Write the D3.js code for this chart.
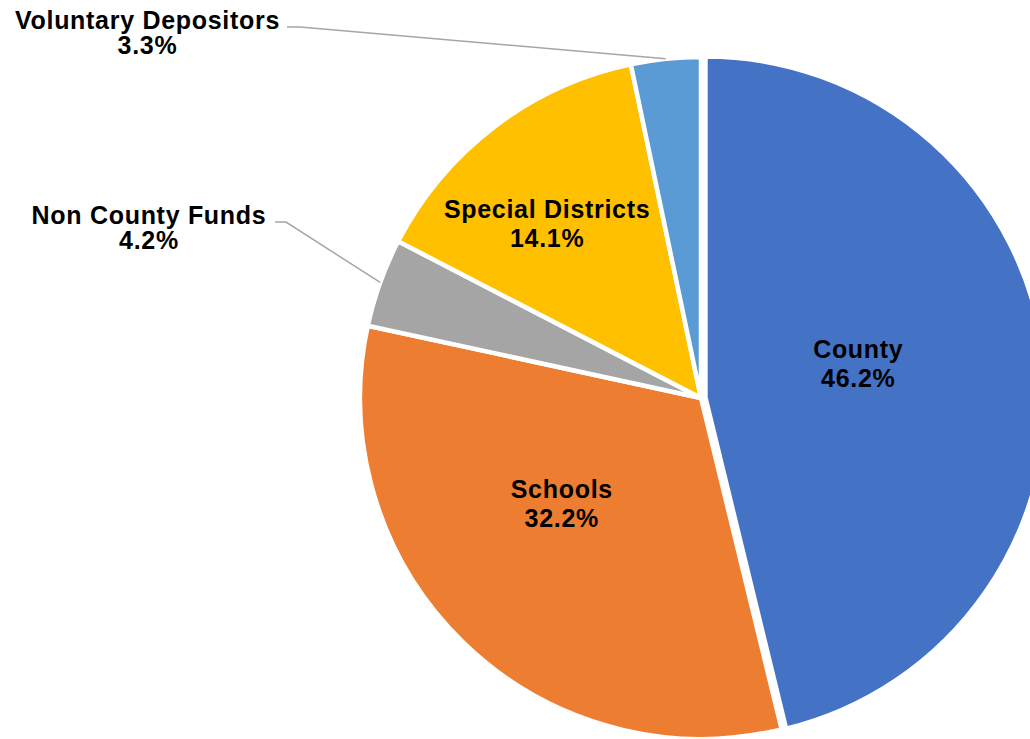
<!DOCTYPE html>
<html>
<head>
<meta charset="utf-8">
<script src="https://cdn.jsdelivr.net/npm/d3@7"></script>
<style>
    body { margin: 0; background: #fff; }
    svg text { font-family: Arial, "Liberation Sans", sans-serif; font-weight: bold; font-size: 25px; letter-spacing: 0.7px; fill: #000; }
</style>
</head>
<body>
<div id="chart"></div>
<script>
// Data
const categories = ["County", "Schools", "Non County Funds", "Special Districts", "Voluntary Depositors"];
const shares = [46.2, 32.2, 4.2, 14.1, 3.3];
const colors = ["#4472C4", "#ED7D31", "#A5A5A5", "#FFC000", "#5B9BD5"];

const svgWidth = 1030, svgHeight = 739;
const cx = 701, cy = 398, radius = 341;
const explodeBy = 4.5; // County slice is pulled out a little

const svg = d3.select("#chart")
    .append("svg")
    .attr("width", svgWidth)
    .attr("height", svgHeight);

const data = categories.map((c, i) => ({ name: c, value: shares[i], color: colors[i] }));

const pie = d3.pie().sort(null).value(d => d.value);
const arcs = pie(data);

const arc = d3.arc().innerRadius(0).outerRadius(radius);
const labelArc = d3.arc().innerRadius(165).outerRadius(165);
const edgeArc = d3.arc().innerRadius(radius).outerRadius(radius);

// offset of a slice from the centre
const offsetOf = d => {
    if (d.data.name !== "County") return [0, 0];
    const a = (d.startAngle + d.endAngle) / 2;
    return [explodeBy * Math.sin(a), -explodeBy * Math.cos(a)];
};

const g = svg.append("g").attr("transform", `translate(${cx},${cy})`);

// Draw slices
g.selectAll("path.slice")
    .data(arcs)
    .enter().append("path")
    .attr("class", "slice")
    .attr("d", arc)
    .attr("transform", d => `translate(${offsetOf(d)})`)
    .attr("fill", d => d.data.color)
    .attr("stroke", "#fff")
    .attr("stroke-width", 4.5)
    .attr("stroke-linejoin", "round");

const fmt = d => d.toFixed(1) + "%";

// Labels inside the slices (nudged like the original's best-fit placement)
const insideNudge = { "County": [-11, -14], "Schools": [-24, -12], "Special Districts": [-54, -43] };

arcs.filter(d => insideNudge[d.data.name]).forEach(d => {
    const c = labelArc.centroid(d);
    const o = offsetOf(d);
    const n = insideNudge[d.data.name];
    const x = c[0] + o[0] + n[0], y = c[1] + o[1] + n[1];
    const t = g.append("text").attr("text-anchor", "middle");
    t.append("tspan").attr("x", x).attr("y", y - 6).text(d.data.name);
    t.append("tspan").attr("x", x).attr("y", y + 23).text(fmt(d.data.value));
});

// Labels outside with leader lines
const outside = {
    "Voluntary Depositors": { x: 147.5, y: 29, lineStart: 287, elbow: 300 },
    "Non County Funds": { x: 149, y: 224, lineStart: 275, elbow: 286 }
};

arcs.filter(d => outside[d.data.name]).forEach(d => {
    const L = outside[d.data.name];
    const end = edgeArc.centroid(d);
    const ly = L.y - 2;
    svg.append("polyline")
        .attr("points", [[L.lineStart, ly], [L.elbow, ly], [cx + end[0], cy + end[1]]].join(" "))
        .attr("fill", "none")
        .attr("stroke", "#A6A6A6")
        .attr("stroke-width", 1.5);
    const t = svg.append("text").attr("text-anchor", "middle");
    t.append("tspan").attr("x", L.x).attr("y", L.y).text(d.data.name);
    t.append("tspan").attr("x", L.x).attr("y", L.y + 25).text(fmt(d.data.value));
});
</script>
</body>
</html>
